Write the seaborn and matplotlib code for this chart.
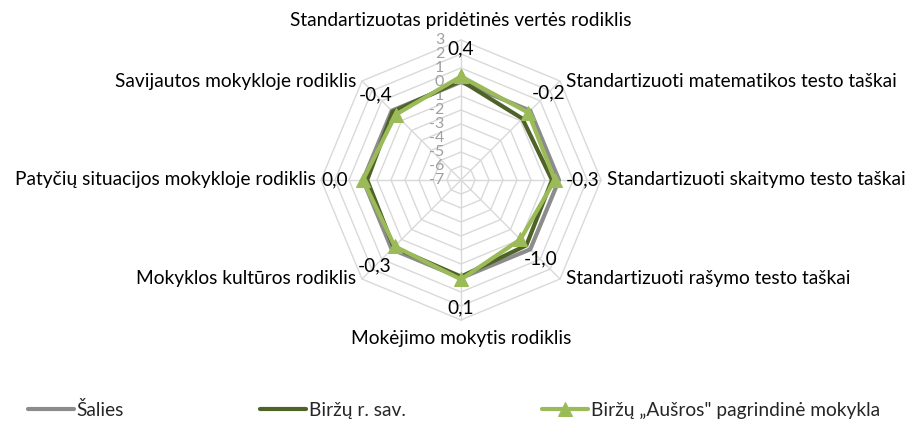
import numpy as np
import pandas as pd
import matplotlib
matplotlib.use("Agg")
import matplotlib.pyplot as plt
import seaborn as sns

categories = [
    "Standartizuotas pridėtinės vertės rodiklis",
    "Standartizuoti matematikos testo taškai",
    "Standartizuoti skaitymo testo taškai",
    "Standartizuoti rašymo testo taškai",
    "Mokėjimo mokytis rodiklis",
    "Mokyklos kultūros rodiklis",
    "Patyčių situacijos mokykloje rodiklis",
    "Savijautos mokykloje rodiklis",
]
series_names = ["Šalies", "Biržų r. sav.", "Biržų „Aušros\" pagrindinė mokykla"]
salies = [0.0, 0.0, 0.0, 0.0, 0.0, 0.0, 0.0, 0.0]
rajonas = [0.1, -0.8, -0.5, -0.4, -0.1, -0.2, -0.3, -0.1]
mokykla = [0.4, -0.2, -0.3, -1.0, 0.1, -0.3, 0.0, -0.4]
radial_ticks = [3, 2, 1, 0, -1, -2, -3, -4, -5, -6, -7]

colors = ["#8C8C8C", "#4F6228", "#9BBB59"]
r_min, r_max = -7, 3

sns.set_theme(style="white")
plt.rcParams["font.family"] = ["Lato", "DejaVu Sans"]

n = len(categories)
theta = np.arange(n) * 2 * np.pi / n
FS = 13.8


def to_xy(values):
    r = np.asarray(values, dtype=float) - r_min
    return r * np.sin(theta), r * np.cos(theta)


fig = plt.figure(figsize=(9.15, 4.3), dpi=100)
ax = fig.add_axes([0, 0, 1, 1])
ax.axis("off")

# polygon grid and spokes
R = r_max - r_min
for k in range(0, R + 1):
    gx = np.append(k * np.sin(theta), 0)
    gy = np.append(k * np.cos(theta), k)
    ax.plot(gx, gy, color="#D9D9D9", lw=1.0, zorder=1)
for t in theta:
    ax.plot([0, R * np.sin(t)], [0, R * np.cos(t)], color="#D9D9D9", lw=1.0, zorder=1)

# radial tick labels along the top spoke
for v in radial_ticks:
    ax.text(-1.2, v - r_min, f"{v}", ha="right", va="center",
            fontsize=11.5, color="#A0A0A0", zorder=2)

# series
for name, vals, col in zip(series_names, [salies, rajonas, mokykla], colors):
    x, y = to_xy(vals)
    x = np.append(x, x[0])
    y = np.append(y, y[0])
    df = pd.DataFrame({"x": x, "y": y})
    marker = "^" if vals is mokykla else None
    sns.lineplot(data=df, x="x", y="y", sort=False, estimator=None, ax=ax,
                 color=col, lw=3.0, marker=marker, markersize=10.5,
                 markeredgecolor=col, label=name, zorder=3)
ax.set_xlabel("")
ax.set_ylabel("")
ax.set_xlim(-461 / 14, 454 / 14)
ax.set_ylim(-250 / 14, 180 / 14)

# data labels for the school series
lx, ly = to_xy(np.array(mokykla) + 2.0)
for xi, yi, v in zip(lx, ly, mokykla):
    ax.text(xi, yi, f"{v:.1f}".replace(".", ","), ha="center", va="center",
            fontsize=FS, color="black", zorder=4)

# category labels
for t, cat in zip(theta, categories):
    s, c = np.sin(t), np.cos(t)
    ha = "left" if s > 0.1 else ("right" if s < -0.1 else "center")
    va = "bottom" if c > 0.9 else ("top" if c < -0.9 else "center")
    x = R * s + (0.4 if s > 0.1 else (-0.4 if s < -0.1 else 0))
    y = R * c + (0.8 if c > 0.9 else (-0.7 if c < -0.9 else 0))
    ax.text(x, y, cat, ha=ha, va=va, fontsize=FS, color="black")

handles, labels = ax.get_legend_handles_labels()
ax.get_legend().remove()
fig.legend(handles, labels, loc="center", bbox_to_anchor=(454 / 915, 1 - 410 / 430),
           ncol=3, frameon=False, fontsize=FS, handlelength=2.4, handletextpad=0.15,
           columnspacing=7.1)

fig.savefig("out.png", dpi=100)
